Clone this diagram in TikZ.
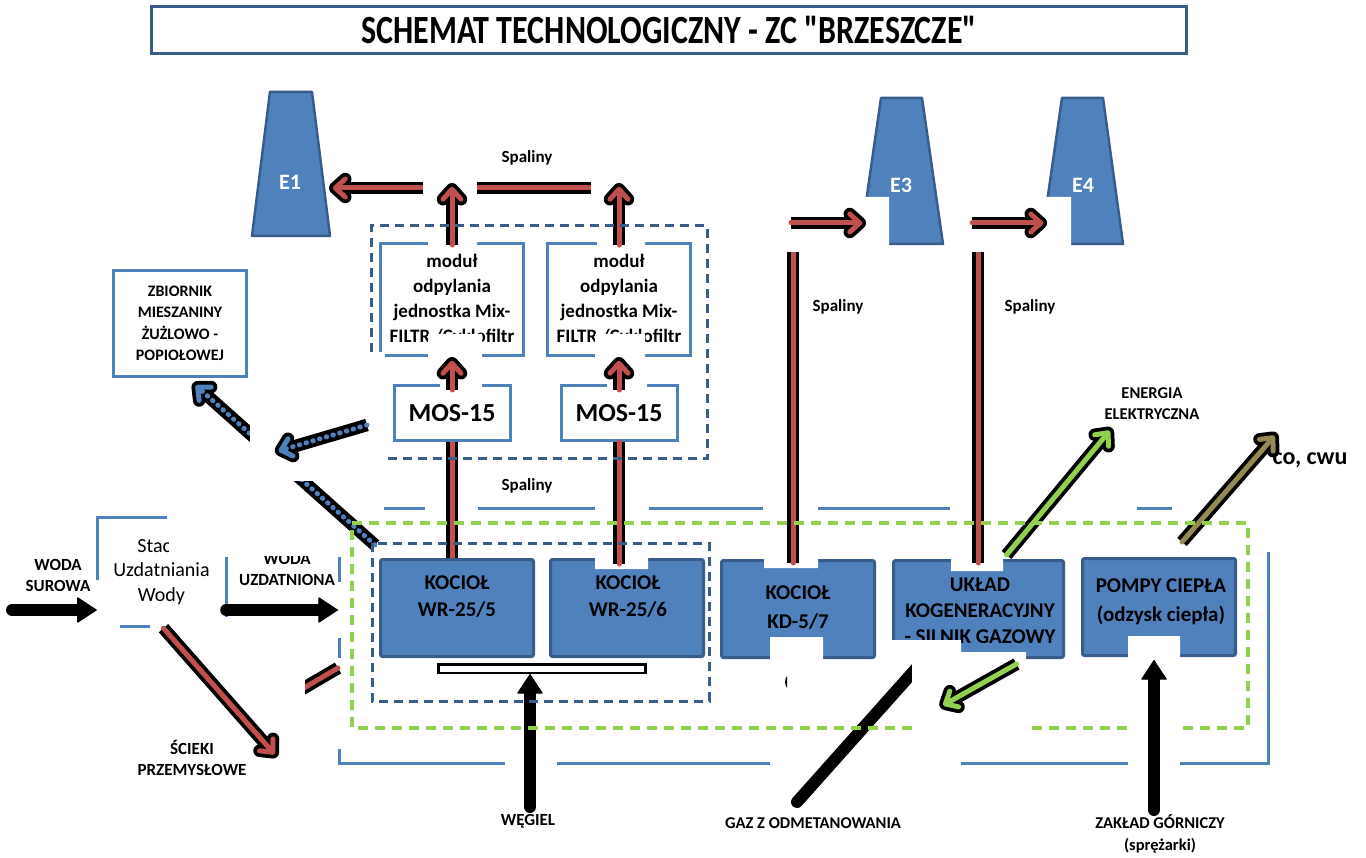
\documentclass[tikz,border=0pt]{standalone}
\usepackage{graphicx}
\usepackage{fontspec}
\setmainfont{Carlito}
\usetikzlibrary{arrows.meta}
\definecolor{fillblue}{RGB}{79,129,189}
\definecolor{edgeblue}{RGB}{56,93,138}
\definecolor{fluered}{RGB}{192,80,77}
\definecolor{powergreen}{RGB}{146,208,80}
\definecolor{heatolive}{RGB}{148,138,84}
\newcommand{\fsz}[2]{\fontsize{#1}{#2}\selectfont}

\begin{document}
\begin{tikzpicture}[x=1pt, y=-1pt,
  every node/.style={align=center, inner sep=0pt, font=\bfseries},
  unit/.style={draw=edgeblue, line width=3pt, fill=fillblue, rounded corners=2pt,
    minimum width=153pt, minimum height=97pt},
  panel/.style={draw=fillblue, line width=3pt, fill=white},
  chimney/.style={draw=edgeblue, line width=2.5pt, fill=fillblue, line join=round},
  wall/.style={draw=fillblue, line width=3pt},
  group/.style={draw=edgeblue, line width=3pt, dash pattern=on 9pt off 6pt},
  zone/.style={draw=powergreen, line width=4pt, dash pattern=on 10pt off 7pt},
  mask/.style={fill=white},
  pipe/.style={draw=#1, line width=5pt, line cap=round, line join=round,
    -{Straight Barb[round, length=10pt, width=18pt]}, shorten >=3.75pt,
    preaction={draw=black, solid, line width=12.5pt,
      -{Straight Barb[round, length=10pt, width=18pt]}, shorten >=0pt}},
  duct/.style={draw=#1, line width=5pt, preaction={draw=black, line width=12.5pt}},
  ash/.style={pipe=fillblue, dash pattern=on 0.5pt off 6.5pt},
  feed/.style={draw=black, line width=12pt, line cap=round,
    -{Triangle[round, length=20pt, width=26pt, line width=1pt]}},
  tag/.style={font=\bfseries\fsz{17}{21}},
  boxtext/.style={font=\bfseries\fsz{21}{27}}]

\fill[white] (0,0) rectangle (1366,858);
\useasboundingbox (0,0) rectangle (1366,858);

\node[draw=edgeblue, line width=3pt, minimum width=1035pt, minimum height=47pt] (title) at (669,30)
  {\fsz{40}{44}\scalebox{0.8}[1]{SCHEMAT TECHNOLOGICZNY - ZC \textquotedbl BRZESZCZE\textquotedbl}};

% kominy
\draw[chimney] (270,92) -- (312,92) -- (330,236) -- (252,236) -- cycle;
\draw[chimney] (881,98) -- (922,98) -- (943,244) -- (860,244) -- cycle;
\draw[chimney] (1062,98) -- (1103,98) -- (1123,244) -- (1041,244) -- cycle;
\node[text=white, font=\bfseries\fsz{22}{26}] (e1) at (290,182) {E1};
\node[text=white, font=\bfseries\fsz{22}{26}] (e3) at (901,185) {E3};
\node[text=white, font=\bfseries\fsz{22}{26}] (e4) at (1083,185) {E4};
\coordinate (e1in) at (329,188);
\coordinate (e3in) at (866,223);
\coordinate (e4in) at (1047,223);
\coordinate (hood) at (0,183);

\draw[wall] (384,508) -- (425,508) (478,508) -- (595,508) (649,508) -- (763,508)
  (818,508) -- (950,508) (1137,508) -- (1172,508);
\draw[wall] (339,557) -- (339,582) (339,638) -- (339,658) (339,749) -- (339,763) -- (505,763)
  (557,763) -- (770,763) (961,763) -- (1128,763) (1180,763) -- (1268,763) -- (1268,552);
\draw[wall] (97,580) -- (97,517) -- (167,517) (120,626) -- (150,626) (226,557) -- (226,617);

\node[panel, minimum width=133pt, minimum height=106pt, font=\bfseries\fsz{16}{21.5}] (bin) at (180,323.5)
  {ZBIORNIK\\MIESZANINY\\ŻUŻLOWO -\\POPIOŁOWEJ};

\node[panel, minimum width=143pt, minimum height=112pt] (modA) at (452,299.5) {};
\node[panel, minimum width=143pt, minimum height=112pt] (modB) at (619,299.5) {};
\node[font=\bfseries\fsz{19}{25}] (modAtxt) at (modA) {moduł\\odpylania\\jednostka Mix-\\FILTR /Cyklofiltr};
\node[font=\bfseries\fsz{19}{25}] (modBtxt) at (modB) {moduł\\odpylania\\jednostka Mix-\\FILTR /Cyklofiltr};
\node[panel, minimum width=116pt, minimum height=55pt, font=\bfseries\fsz{26}{30}] (mosA) at (452,413) {MOS-15};
\node[panel, minimum width=116pt, minimum height=55pt, font=\bfseries\fsz{26}{30}] (mosB) at (619,413) {MOS-15};
\fill[mask] (428,236) rectangle (477,248) (597,236) rectangle (645,248);
\fill[mask] (428,334) rectangle (482,362) (595,334) rectangle (645,362);
\fill[mask] (440,378) rectangle (482,390) (607,378) rectangle (647,390);

\node[minimum width=129pt, minimum height=109pt, font=\mdseries\fsz{20}{24.5}] (plant) at (161.5,571.5)
  {Stacja\\Uzdatniania\\Wody};
\node[tag] (rawtxt) at (58,575) {WODA\\SUROWA};
\node[tag] (cleantxt) at (287,569.5) {WODA\\UZDATNIONA};
\fill[mask] (169,505) rectangle (337,556);
\node[tag] (sewtxt) at (192,758) {ŚCIEKI\\PRZEMYSŁOWE};
\node[tag] (coaltxt) at (528,821) {WĘGIEL};
\node[tag, font=\bfseries\fsz{16.5}{21}] (gastxt) at (813,823) {GAZ Z ODMETANOWANIA};
\node[tag, font=\bfseries\fsz{16.5}{22}] (minetxt) at (1160,834) {ZAKŁAD GÓRNICZY\\(sprężarki)};
\node[tag, font=\bfseries\fsz{16.5}{21}] (gridtxt) at (1152,403.5) {ENERGIA\\ELEKTRYCZNA};
\node[font=\bfseries\fsz{24}{28}] (heattxt) at (1310,460) {co, cwu};
\node[tag] (flueA) at (527,158) {Spaliny};
\node[tag] (flueB) at (527,486) {Spaliny};
\node[tag] (flueC) at (838,307) {Spaliny};
\node[tag] (flueD) at (1030,307) {Spaliny};

% kotly
\draw[duct=fluered] (mosA.south) -- (mosA.south |- 0,600);
\node[unit] (wrA) at (457,608) {};
\node[unit] (wrB) at (627,608) {};
\node[unit] (kd) at (798,609) {};
\node[unit, minimum width=170pt] (chp) at (978.5,609) {};
\node[unit] (pompy) at (1159,607) {};
\node[boxtext] (wrAtxt) at (457,597) {KOCIOŁ\\WR-25/5};
\node[boxtext] (wrBtxt) at (628,597) {KOCIOŁ\\WR-25/6};
\node[boxtext, font=\bfseries\fsz{21}{29}] (kdtxt) at (798,607.5) {KOCIOŁ\\KD-5/7};
\node[boxtext, font=\bfseries\fsz{21}{26}] (chptxt) at (980,611) {UKŁAD\\KOGENERACYJNY\\- SILNIK GAZOWY};
\node[boxtext, font=\bfseries\fsz{21}{29}] (pompytxt) at (1161,602) {POMPY CIEPŁA\\(odzysk ciepła)};
\node[draw=black, line width=2.5pt, fill=white, minimum width=207pt, minimum height=8.5pt] (grate) at (542,668.5) {};
\fill[mask] (595,555) rectangle (648,569) (764,555) rectangle (818,568) (951,555) rectangle (1003,571);
\fill[mask] (770,637) rectangle (823,663) (892,640) rectangle (912,663) (1128,636) rectangle (1180,662);
\coordinate (wrBport) at (619,564);
\coordinate (kdport) at (793,563);
\coordinate (chpport) at (978,563);

% spaliny
\draw[duct=fluered, line cap=round] (mosB.south) -- (wrBport);
\draw[duct=fluered, line cap=round] (kdport) -- (793,215);
\draw[duct=fluered, line cap=round] (chpport) -- (978,215);
\draw[pipe=fluered] ([yshift=-6pt]mosA.north) -- (modA.south);
\draw[pipe=fluered] ([yshift=-6pt]mosB.north) -- (modB.south);
\draw[pipe=fluered] ([yshift=-3pt]modA.north) -- (modA.north |- hood);
\draw[pipe=fluered] ([yshift=-3pt]modB.north) -- (modB.north |- hood);
\draw[pipe=fluered, line cap=butt] (423,188) -- (e1in);
\draw[duct=fluered] (477,188) -- (591,188);
\fill[mask] (786,197) rectangle (889,252) (964,197) rectangle (1071,252);
\draw[pipe=fluered] (791,223) -- (e3in);
\draw[pipe=fluered] (972,223) -- (e4in);

% popiol
\coordinate (ashout) at (375,545);
\coordinate (binin) at (193,383);
\draw[ash] (ashout) -- (binin);
\fill[mask] (250,352) rectangle (385,481);
\coordinate (dustout) at (367,425);
\coordinate (dustend) at (275,452);
\draw[ash] (dustout) -- (dustend);

% woda
\coordinate (sewage) at (277,757);
\draw[pipe=fluered] ([xshift=2pt,yshift=-2pt]plant.south) -- (sewage);
\begin{scope}
  \clip (305,650) rectangle (350,700);
  \draw[duct=fluered, line cap=round] (280,702) -- (338,668);
\end{scope}
\coordinate (raw) at (12,610);
\coordinate (tozone) at (338,610);
\draw[feed] (raw) -- (raw -| plant.west);
\draw[feed] (plant.east |- raw) -- (tozone);

\coordinate (coal) at (530,807);
\draw[feed] (coal) -- (coal |- grate.south);
\coordinate (mine) at (1154,810);
\draw[feed] (mine) -- ([yshift=-3pt]mine |- pompy.south);

\coordinate (gasin) at (797,802);
\coordinate (gasend) at (930,653);
\draw[black, line width=12pt, line cap=round] (gasin) -- (gasend);
\begin{scope}
  \clip (778,668) rectangle (787,696);
  \fill (795,682) circle (10pt);
\end{scope}

\coordinate (grid) at (1112,428);
\coordinate (heat) at (1277,433);
\draw[pipe=powergreen] ([xshift=28pt,yshift=4pt]chp.north) -- (grid);
\draw[pipe=heatolive] ([xshift=23pt,yshift=15pt]pompy.north) -- (heat);

\draw[group] (372,543) rectangle (709,701);
\draw[group] (371,352) -- (371,226) -- (707,226) -- (707,459) -- (386,459);
\draw[zone] (912,728) -- (352,728) -- (352,523) -- (1248,523) -- (1248,728) -- (1180,728);
\draw[zone] (1127,728) -- (1025,728);

\fill[mask] (912,640) -- (961,640) -- (961,652) -- (1026,652) -- (1026,745) -- (912,745) -- cycle;
\coordinate (gridback) at (940,707);
\draw[pipe=powergreen] ([xshift=38pt,yshift=-5pt]chp.south) -- (gridback);
\end{tikzpicture}
\end{document}
